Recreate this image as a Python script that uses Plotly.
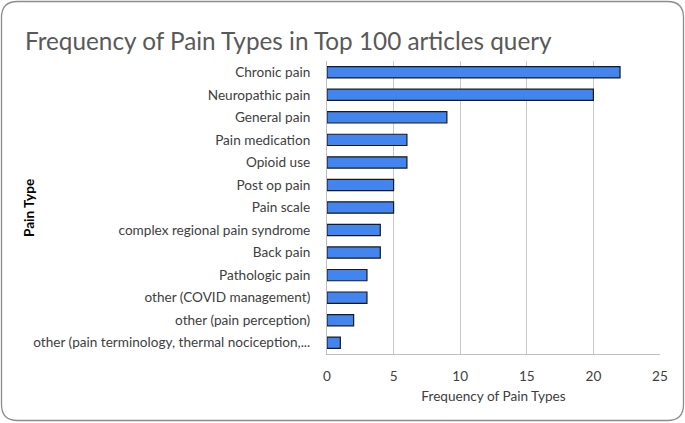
import plotly.graph_objects as go

categories = [
    "Chronic pain",
    "Neuropathic pain",
    "General pain",
    "Pain medication",
    "Opioid use",
    "Post op pain",
    "Pain scale",
    "complex regional pain syndrome",
    "Back pain",
    "Pathologic pain",
    "other (COVID management)",
    "other (pain perception)",
    "other (pain terminology, thermal nociception,...",
]
values = [22, 20, 9, 6, 6, 5, 5, 4, 4, 3, 3, 2, 1]
x_ticks = [0, 5, 10, 15, 20, 25]

W, H = 685, 423
ML, MR, MT, MB = 327, 25, 61, 69
PW, PH = W - ML - MR, H - MT - MB

FONT = "Lato"
FS = 13.6

fig = go.Figure(go.Bar(
    x=values,
    y=categories,
    orientation="h",
    marker=dict(color="#4285F0", line=dict(color="#1a1a1a", width=1.2)),
))

def px_to_paper_x(px):
    return (px - ML) / PW

def px_to_paper_y(py):
    return 1 - (py - MT) / PH

# rounded border
x0, x1, y0, y1, r = 1.5, 683.5, 1.5, 420.5, 16
pts = [
    ("M", x0 + r, y0), ("L", x1 - r, y0), ("Q", x1, y0, x1, y0 + r),
    ("L", x1, y1 - r), ("Q", x1, y1, x1 - r, y1), ("L", x0 + r, y1),
    ("Q", x0, y1, x0, y1 - r), ("L", x0, y0 + r), ("Q", x0, y0, x0 + r, y0),
]
path = ""
for p in pts:
    cmd = p[0]
    coords = p[1:]
    s = []
    for i in range(0, len(coords), 2):
        s.append(f"{px_to_paper_x(coords[i]):.5f},{px_to_paper_y(coords[i+1]):.5f}")
    path += cmd + " " + " ".join(s) + " "
path += "Z"

fig.add_shape(type="path", path=path, xref="paper", yref="paper",
              line=dict(color="#8c8c8c", width=1.3), layer="below")

fig.update_layout(
    width=W, height=H,
    margin=dict(l=ML, r=MR, t=MT, b=MB, pad=0),
    paper_bgcolor="white", plot_bgcolor="white",
    bargap=0.5,
    showlegend=False,
    font=dict(family=FONT, color="#404040", size=FS),
    title=dict(
        text="Frequency of Pain Types in Top 100 articles query",
        x=25 / W, xref="container", xanchor="left",
        y=1 - 50 / H, yref="container", yanchor="bottom",
        font=dict(family=FONT, size=24.3, color="#595959"),
    ),
    xaxis=dict(
        range=[0, 25], tickvals=x_ticks, ticks="", showgrid=True,
        gridcolor="#c8c8c8", gridwidth=1, zeroline=False,
        showline=True, linecolor="#bfbfbf", linewidth=1, mirror=False,
        ticklabelstandoff=10,
        tickfont=dict(size=FS, color="#404040"),
        title=dict(text="Frequency of Pain Types", font=dict(size=FS, color="#404040"), standoff=8),
        fixedrange=True,
    ),
    yaxis=dict(
        categoryorder="array", categoryarray=categories[::-1],
        showline=True, linecolor="#bfbfbf", linewidth=1,
        ticks="", ticklabelstandoff=13, showgrid=False,
        tickfont=dict(size=FS, color="#404040"),
        fixedrange=True,
    ),
)

fig.add_annotation(
    text="<b>Pain Type</b>", textangle=-90, showarrow=False,
    xref="paper", yref="paper", x=px_to_paper_x(29), y=px_to_paper_y(208),
    xanchor="center", yanchor="middle",
    font=dict(size=FS, color="#000000", family=FONT),
)

fig.write_html("out.html", config={"displayModeBar": False},
               post_script="document.body.style.margin='0';")
